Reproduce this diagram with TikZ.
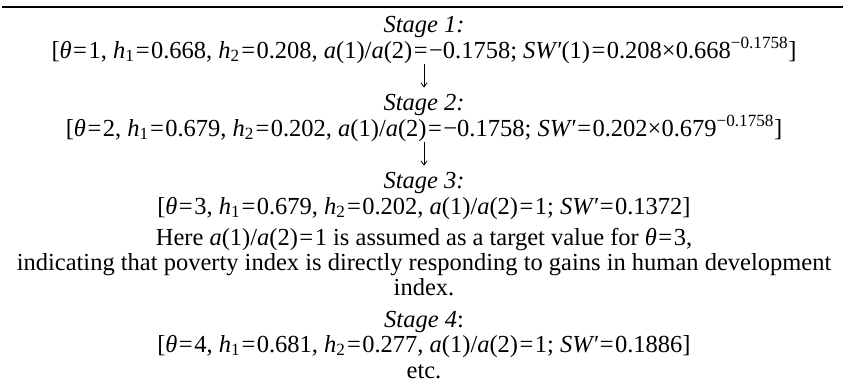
\documentclass[tikz,border=0pt]{standalone}
\usepackage{fontspec}
\setmainfont{Liberation Serif}
\usetikzlibrary{arrows.meta}
\newcommand{\vi}[1]{\textit{#1}}
\newcommand{\eq}{\kern.06em=\kern.06em}
\tikzset{
  txt/.style={inner sep=0pt, anchor=base, font=\fontsize{24.5}{27}\selectfont},
  flow/.style={-{Straight Barb[length=4pt,width=6pt]}, line width=0.8pt, shorten <=1pt, shorten >=6pt}
}
\begin{document}
\begin{tikzpicture}[x=1pt,y=-1pt]
\useasboundingbox (0,0) rectangle (843,391);
\coordinate (rl) at (2,7);
\coordinate (rr) at (843,7);
\draw[line width=2.5pt] (rl) -- (rr);
\node[txt] (s1) at (424,32) {\vi{Stage 1:}};
\node[txt] (l1) at (424,58) {[\vi{θ}\eq1, \vi{h}\textsubscript{1}\eq0.668, \vi{h}\textsubscript{2}\eq0.208, \vi{a}(1)/\vi{a}(2)\eq−0.1758; \vi{SW′}(1)\eq0.208×0.668\textsuperscript{−0.1758}]};
\node[txt] (s2) at (424,110) {\vi{Stage 2:}};
\node[txt] (l2) at (424,136) {[\vi{θ}\eq2, \vi{h}\textsubscript{1}\eq0.679, \vi{h}\textsubscript{2}\eq0.202, \vi{a}(1)/\vi{a}(2)\eq−0.1758; \vi{SW′}\eq0.202×0.679\textsuperscript{−0.1758}]};
\node[txt] (s3) at (424,188) {\vi{Stage 3:}};
\node[txt] (l3) at (424,214) {[\vi{θ}\eq3, \vi{h}\textsubscript{1}\eq0.679, \vi{h}\textsubscript{2}\eq0.202, \vi{a}(1)/\vi{a}(2)\eq1; \vi{SW′}\eq0.1372]};
\node[txt] (n1) at (424,245) {Here \vi{a}(1)/\vi{a}(2)\eq1 is assumed as a target value for \vi{θ}\eq3,};
\node[txt] (n2) at (424,270) {indicating that poverty index is directly responding to gains in human development};
\node[txt] (n3) at (424,295) {index.};
\node[txt] (s4) at (424,327) {\vi{Stage 4}:};
\node[txt] (l4) at (424,352) {[\vi{θ}\eq4, \vi{h}\textsubscript{1}\eq0.681, \vi{h}\textsubscript{2}\eq0.277, \vi{a}(1)/\vi{a}(2)\eq1; \vi{SW′}\eq0.1886]};
\node[txt] (etc) at (424,378) {etc.};
\draw[flow] (l1.south) -- (s2.north);
\draw[flow] (l2.south) -- (s3.north);
\end{tikzpicture}
\end{document}
